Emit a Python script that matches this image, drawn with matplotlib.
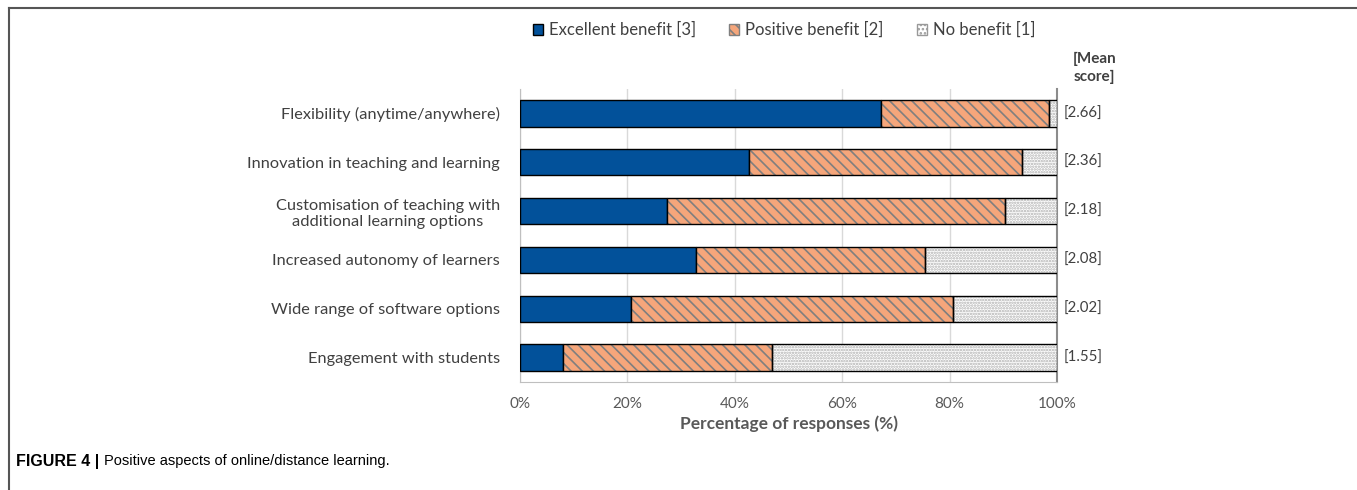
import numpy as np
import matplotlib.pyplot as plt
from matplotlib.patches import Patch
from matplotlib.lines import Line2D

plt.rcParams['font.family'] = ['Lato', 'DejaVu Sans']
plt.rcParams['hatch.linewidth'] = 1.2

# данные
categories = ['Flexibility (anytime/anywhere)',
              'Innovation in teaching and learning',
              'Customisation of teaching with\nadditional learning options',
              'Increased autonomy of learners',
              'Wide range of software options',
              'Engagement with students']
excellent = [67.2, 42.6, 27.3, 32.8, 20.7, 8.0]
positive = [31.3, 50.8, 63.0, 42.6, 60.0, 38.9]
nobenefit = [1.5, 6.6, 9.7, 24.6, 19.3, 53.1]
mean_score = ['[2.66]', '[2.36]', '[2.18]', '[2.08]', '[2.02]', '[1.55]']
series_names = ['Excellent benefit [3]', 'Positive benefit [2]', 'No benefit [1]']

blue = '#02519a'
orange = '#f5a67b'
txt = '#404040'

fig = plt.figure(figsize=(13.57, 4.9), dpi=100)
ax = fig.add_axes([520/1357, 1-382/490, 537/1357, (382-89)/490])

y = np.arange(len(categories))
ex = np.array(excellent)
po = np.array(positive)
no = np.array(nobenefit)
h = 0.54

ax.barh(y, ex, height=h, color=blue, edgecolor='black', linewidth=1, zorder=3)
# штриховка серым, контур чёрным
ax.barh(y, po, left=ex, height=h, color=orange, edgecolor='#7f7f7f', hatch='\\\\\\', linewidth=0, zorder=3)
ax.barh(y, po, left=ex, height=h, fill=False, edgecolor='black', linewidth=1, zorder=4)
ax.barh(y, no, left=ex+po, height=h, color='white', edgecolor='#b0b0b0', hatch='......', linewidth=0, zorder=3)
ax.barh(y, no, left=ex+po, height=h, fill=False, edgecolor='black', linewidth=1, zorder=4)

ax.set_xlim(0, 100)
ax.set_ylim(len(categories)-0.5, -0.5)
ax.set_xticks(np.arange(0, 101, 20))
ax.set_xticklabels([f'{v}%' for v in range(0, 101, 20)], color='#595959', fontsize=11)
ax.set_yticks(y)
ax.set_yticklabels(categories, color=txt, fontsize=11.8, ha='right', multialignment='center')
ax.tick_params(axis='y', length=0, pad=14.5)
ax.tick_params(axis='x', length=0, pad=11)
ax.grid(axis='x', color='#d9d9d9', linewidth=1, zorder=0)
ax.spines['top'].set_visible(False)
ax.spines['left'].set_color('#bfbfbf')
ax.spines['bottom'].set_color('#bfbfbf')
ax.spines['right'].set_color('#8c8c8c')
ax.spines['right'].set_linewidth(1.5)
ax.set_xlabel('Percentage of responses (%)', fontsize=12.5, fontweight='bold', color='#595959', labelpad=3)

for i, m in enumerate(mean_score):
    ax.text(101.2, i, m, va='center', ha='left', fontsize=10.8, color=txt)
ax.text(103.0, -0.6, '[Mean\nscore]', ha='left', va='bottom', fontsize=11,
        fontweight='bold', color=txt, linespacing=1.35)

handles = [Patch(facecolor=blue, edgecolor='black'),
           Patch(facecolor=orange, edgecolor='#7f7f7f', hatch='\\\\\\'),
           Patch(facecolor='white', edgecolor='#999999', hatch='....')]
fig.legend(handles, series_names, loc='center', bbox_to_anchor=(784/1357, 1-30/490),
           ncol=3, frameon=False, fontsize=12, handlelength=0.6, handleheight=0.6,
           columnspacing=2.0, handletextpad=0.35, labelcolor=txt)

# рамка страницы
fig.add_artist(Line2D([9/1357, 1], [1-8/490, 1-8/490], color='#555555', lw=1.5))
fig.add_artist(Line2D([9/1357, 9/1357], [0, 1-8/490], color='#555555', lw=1.5))

cap_font = ['Liberation Sans Narrow', 'Liberation Sans', 'DejaVu Sans']
t1 = fig.text(16/1357, 1-461/490, 'FIGURE 4 |', fontsize=11.5, fontweight='bold',
              family=cap_font, va='center')
fig.canvas.draw()
bb = t1.get_window_extent()
fig.text(bb.x1/1357 + 5/1357, 1-461/490, 'Positive aspects of online/distance learning.',
         fontsize=10.5, family=cap_font, va='center')

fig.savefig('out.png', dpi=100)
